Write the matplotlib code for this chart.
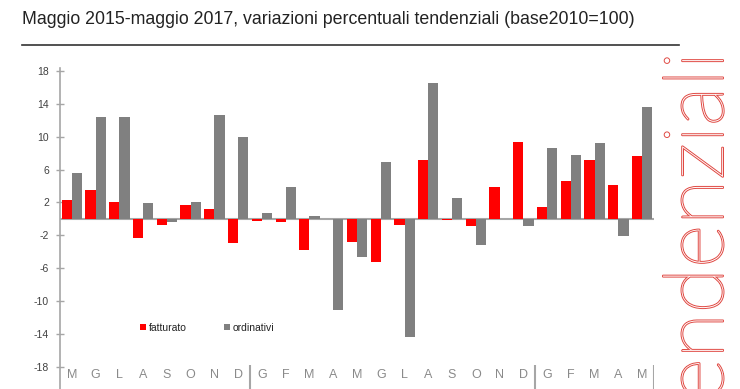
import matplotlib
matplotlib.use("Agg")
import numpy as np
import matplotlib.pyplot as plt
import matplotlib.patheffects as pe
from matplotlib.lines import Line2D

# maggio 2015 - maggio 2017
months = ["M", "G", "L", "A", "S", "O", "N", "D",
          "G", "F", "M", "A", "M", "G", "L", "A", "S", "O", "N", "D",
          "G", "F", "M", "A", "M"]
fatturato = [2.3, 3.5, 2.0, -2.3, -0.8, 1.7, 1.2, -2.9,
             -0.3, -0.4, -3.8, 0.0, -2.8, -5.3, -0.7, 7.1, -0.2, -0.9, 3.9, 9.4,
             1.5, 4.6, 7.2, 4.1, 7.6]
ordinativi = [5.6, 12.4, 12.4, 1.9, -0.4, 2.0, 12.6, 9.9,
              0.7, 3.9, 0.3, -11.1, -4.7, 6.9, -14.4, 16.5, 2.5, -3.2, 0.0, -0.9,
              8.6, 7.8, 9.2, -2.1, 13.6]
yticks = list(range(-18, 19, 4))
year_breaks = [7.5, 19.5, 24.5]

RED = "#ff0000"
GREY = "#808080"
AXIS = "#a6a6a6"
SANS = ["Liberation Sans", "DejaVu Sans"]

fig = plt.figure(figsize=(7.4, 3.89), dpi=100)
ax = fig.add_axes([60 / 740, 0.0, 594 / 740, 321 / 389])

x = np.arange(len(months))
w = 0.43
ax.bar(x - w / 2, fatturato, w, color=RED, label="fatturato", zorder=3)
ax.bar(x + w / 2, ordinativi, w, color=GREY, label="ordinativi", zorder=3)

ax.set_xlim(-0.5, len(months) - 0.5)
ax.set_ylim(-20.7, 18.35)
ax.axhline(0, color=AXIS, lw=1.5, zorder=2)

for s in ["top", "right", "bottom"]:
    ax.spines[s].set_visible(False)
ax.spines["left"].set_color(AXIS)
ax.spines["left"].set_linewidth(1.2)

ax.set_xticks([])
ax.set_yticks(yticks)
ax.set_yticklabels([str(v) for v in yticks], fontsize=7.5, color="#404040", family=SANS)
ax.tick_params(axis="y", direction="inout", length=6, width=1, color=AXIS, pad=5)

for i, m in enumerate(months):
    ax.text(i, -19.0, m, ha="center", va="center", fontsize=9, color="#8a8a8a",
            family=SANS)
ax.vlines(year_breaks, -20.7, -17.8, color=AXIS, lw=1.5)

leg = ax.legend(loc="center left", bbox_to_anchor=(131 / 740, 1 - 328 / 389),
                bbox_transform=fig.transFigure, ncol=2, frameon=False,
                handlelength=0.55, handleheight=0.55, handletextpad=0.25,
                columnspacing=3.6, prop={"family": SANS, "size": 7.5})
for t in leg.get_texts():
    t.set_color("#222222")

fig.text(22 / 740, 1 - 24 / 389,
         "Maggio 2015-maggio 2017, variazioni percentuali tendenziali (base2010=100)",
         ha="left", va="baseline", fontsize=12.8, color="#222222", family=SANS)
fig.add_artist(Line2D([22 / 740, 679 / 740], [1 - 45 / 389] * 2,
                      color="#333333", lw=1.2))

# scritta verticale decorativa, tagliata in basso come nell'originale
fig.text(723 / 740, 1 - 52 / 389, "tendenziali", rotation=90, rotation_mode="anchor",
         ha="right", va="baseline", fontsize=60, color="white",
         family=["Lato", "DejaVu Sans"], fontweight="light",
         path_effects=[pe.Stroke(linewidth=1.4, foreground="#e04a44"), pe.Normal()])

fig.savefig("out.png", dpi=100)
